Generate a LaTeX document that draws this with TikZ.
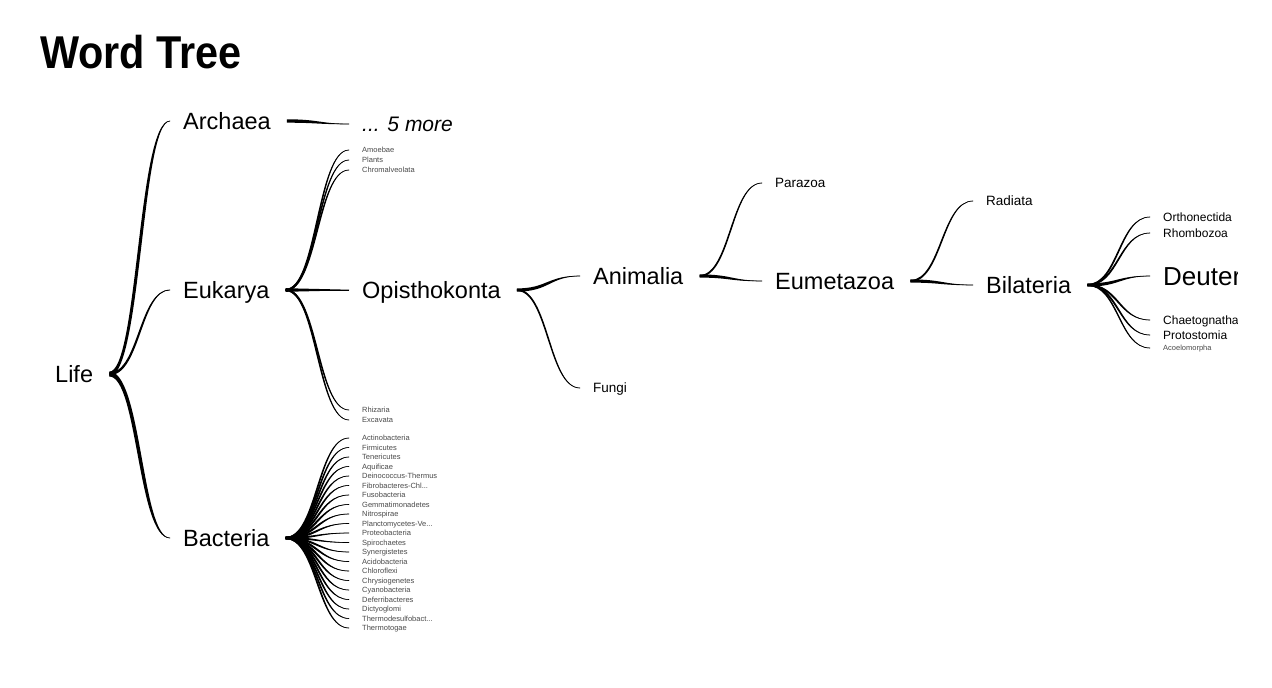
\documentclass[tikz,border=0pt]{standalone}
\usepackage{fontspec}
\setmainfont{Liberation Sans}
\usetikzlibrary{calc}
\definecolor{inkc}{HTML}{000000}
\definecolor{smallc}{HTML}{4A4A4A}
\definecolor{branchc}{HTML}{000000}
\tikzset{
  word/.style={anchor=west,inner sep=0pt,text depth=0pt,text=inkc},
  big/.style={word,text height=16.8pt,font=\fontsize{23.5}{24}\selectfont},
  mid/.style={word,text height=9.7pt,font=\fontsize{13.5}{14}\selectfont},
  sml/.style={word,text height=8.6pt,font=\fontsize{12}{13}\selectfont},
  tiny/.style={word,text height=5.4pt,font=\fontsize{7.5}{8}\selectfont,text=smallc},
  more/.style={word,text height=15pt,font=\fontsize{21}{22}\selectfont\itshape},
  deut/.style={word,text height=18.6pt,font=\fontsize{26}{27}\selectfont},
  title/.style={anchor=base west,inner sep=0pt,font=\fontsize{46}{47}\selectfont\bfseries},
}
\newcommand{\trail}{...}
% tapered branch: parent, child, half width at the parent
\newcommand{\branch}[3]{%
  \fill[branchc] let \p1=($(#1.east)+(16,0)$), \p2=($(#2.west)+(-13,0)$), \p3=($(\p1)!0.5!(\p2)$),
      \n1={sign(\y2-\y1)*0.8*#3}, \n2={\x3-\n1*1pt}, \n3={\x3+\n1*1pt} in
    (\x1,\y1+#3) .. controls ({\n2*1pt},{\y1+#3}) and ({\n2*1pt},{\y2+0.3pt}) .. (\x2,\y2+0.3pt)
    -- (\x2,\y2-0.3pt) .. controls ({\n3*1pt},{\y2-0.3pt}) and ({\n3*1pt},{\y1-#3}) .. (\x1,\y1-#3) -- cycle;
  \draw[branchc,line width=0.4pt] let \p1=($(#1.east)+(16,0)$), \p2=($(#2.west)+(-13,0)$), \p3=($(\p1)!0.5!(\p2)$) in
    (\p1) .. controls (\x3,\y1) and (\x3,\y2) .. (\p2);}
\begin{document}
\begin{tikzpicture}[x=1pt,y=-1pt]
  \useasboundingbox[fill=white] (0,0) rectangle (1272,688);
  \clip (0,0) rectangle (1237,688);
  \node[title] (title) at (40,68) {\scalebox{0.9}[1]{Word Tree}};
  % root and first level
  \node[big] (life) at (55,374) {Life};
  \node[big] (archaea) at (183,121) {Archaea};
  \node[big] (eukarya) at (183,290) {Eukarya};
  \node[big] (bacteria) at (183,538) {Bacteria};
  \branch{life}{archaea}{2.3pt}
  \branch{life}{eukarya}{1.3pt}
  \branch{life}{bacteria}{2.5pt}
  \node[more] (more) at (362,124) {... 5 more};
  \branch{archaea}{more}{1.7pt}
  % eukarya
  \node[tiny] (amoebae) at (362,150) {Amoebae};
  \node[tiny] (plants) at (362,160) {Plants};
  \node[tiny] (chromal) at (362,170) {Chromalveolata};
  \node[big] (opis) at (362,290) {Opisthokonta};
  \node[tiny] (rhizaria) at (362,410) {Rhizaria};
  \node[tiny] (excavata) at (362,420) {Excavata};
  \foreach \kid in {amoebae,plants,chromal,rhizaria,excavata}{\branch{eukarya}{\kid}{1.1pt}}
  \branch{eukarya}{opis}{1.8pt}
  % bacteria
  \foreach \name [count=\i] in {Actinobacteria,Firmicutes,Tenericutes,Aquificae,Deinococcus-Thermus,
      Fibrobacteres-Chl\trail,Fusobacteria,Gemmatimonadetes,Nitrospirae,Planctomycetes-Ve\trail,
      Proteobacteria,Spirochaetes,Synergistetes,Acidobacteria,Chloroflexi,Chrysiogenetes,
      Cyanobacteria,Deferribacteres,Dictyoglomi,Thermodesulfobact\trail,Thermotogae}{
    \node[tiny] (b\i) at (362,{428.5+9.5*\i}) {\name};
    \branch{bacteria}{b\i}{1.1pt}}
  % opisthokonta
  \node[big] (animalia) at (593,276) {Animalia};
  \node[mid] (fungi) at (593,388) {Fungi};
  \branch{opis}{animalia}{1.6pt}
  \branch{opis}{fungi}{1.0pt}
  \node[mid] (parazoa) at (775,183) {Parazoa};
  \node[big] (eumetazoa) at (775,281) {Eumetazoa};
  \branch{animalia}{parazoa}{1.0pt}
  \branch{animalia}{eumetazoa}{1.6pt}
  \node[mid] (radiata) at (986,201) {Radiata};
  \node[big] (bilateria) at (986,285) {Bilateria};
  \branch{eumetazoa}{radiata}{1.0pt}
  \branch{eumetazoa}{bilateria}{1.6pt}
  % bilateria
  \node[sml] (ortho) at (1163,217) {Orthonectida};
  \node[sml] (rhombo) at (1163,233) {Rhombozoa};
  \node[deut] (deutero) at (1163,276) {Deuterostomia};
  \node[sml] (chaeto) at (1163,320) {Chaetognatha};
  \node[sml] (proto) at (1163,335) {Protostomia};
  \node[tiny] (acoelo) at (1163,348) {Acoelomorpha};
  \foreach \kid in {ortho,rhombo,chaeto,proto}{\branch{bilateria}{\kid}{1.0pt}}
  \branch{bilateria}{acoelo}{0.8pt}
  \branch{bilateria}{deutero}{1.6pt}
\end{tikzpicture}
\end{document}
